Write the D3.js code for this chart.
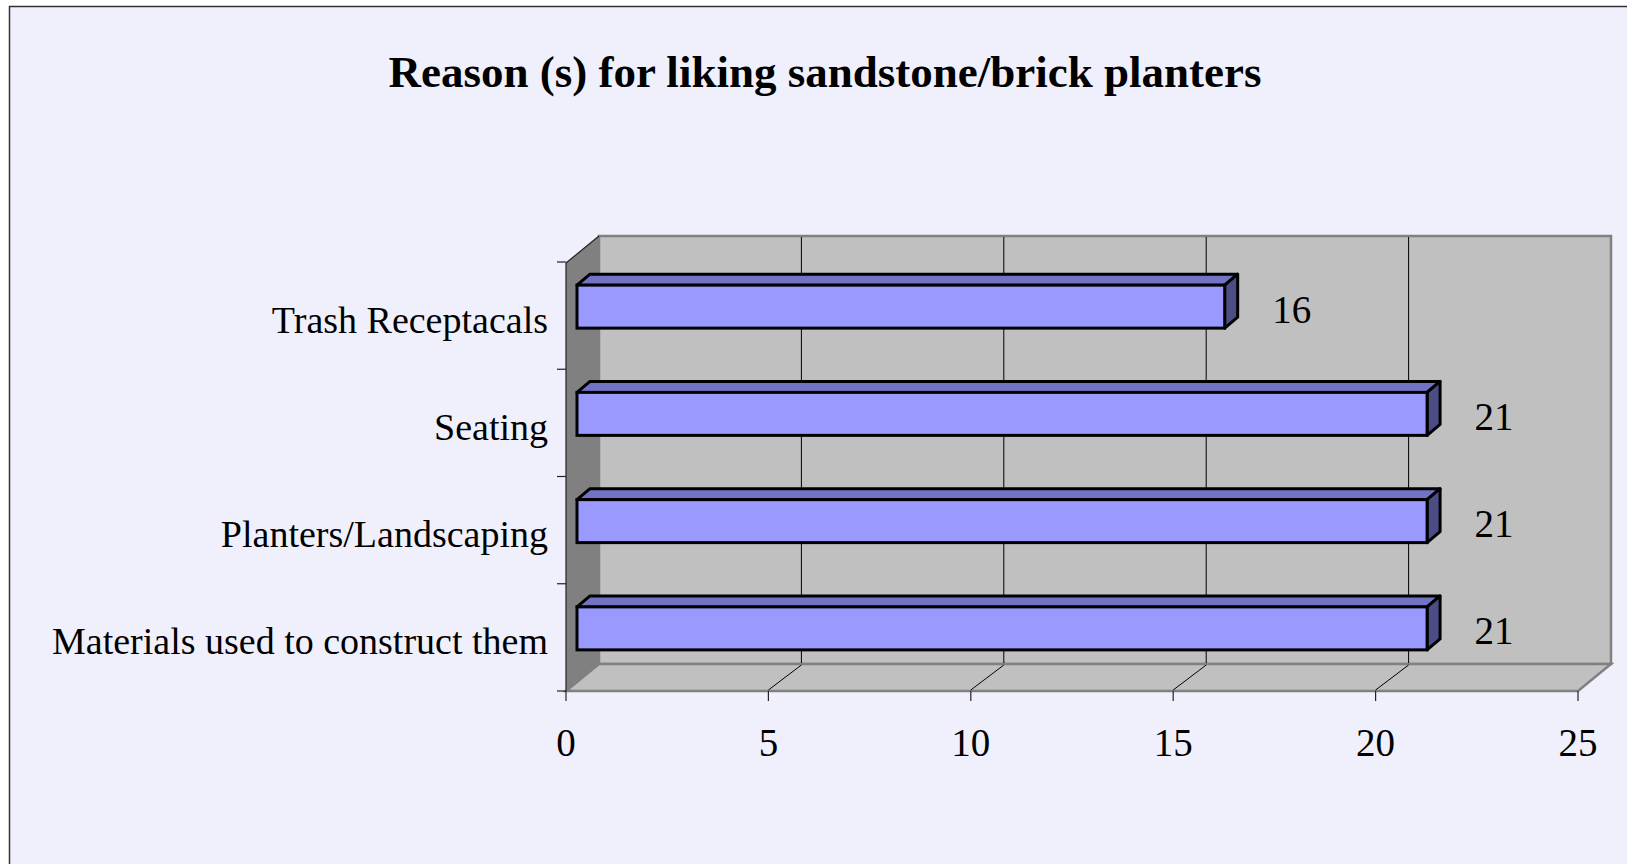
<!DOCTYPE html>
<html>
<head>
<meta charset="utf-8">
<script src="https://cdn.jsdelivr.net/npm/d3@7"></script>
<style>
  html, body { margin: 0; padding: 0; background: #ffffff; }
  svg { display: block; }
  text { font-family: "Liberation Serif", "Times New Roman", serif; fill: #000; }
</style>
</head>
<body>
<svg width="1627" height="864"></svg>
<script>
// data
const categories = ['Trash Receptacals', 'Seating', 'Planters/Landscaping', 'Materials used to construct them'];
const values = [16, 21, 21, 21];
const tickValues = [0, 5, 10, 15, 20, 25];
const title = 'Reason (s) for liking sandstone/brick planters';

const data = categories.map((c, i) => ({ name: c, value: values[i] }));

const svg = d3.select('svg');

// 3d offsets (wall depth and bar depth)
const depthX = 33, depthY = -27;
const barFrontX = 11, barFrontY = -9;
const barBackX = 24, barBackY = -20;
const barHeight = 43;

// chart background + border
svg.append('rect')
  .attr('x', 9.5)
  .attr('y', 6.5)
  .attr('width', 1700)
  .attr('height', 900)
  .attr('fill', '#f0f0fc')
  .attr('stroke', '#333')
  .attr('stroke-width', 1.5);

// title
svg.append('text')
  .attr('x', 825)
  .attr('y', 87)
  .attr('text-anchor', 'middle')
  .attr('font-size', 45)
  .attr('font-weight', 'bold')
  .text(title);

// scales
const scaleX = d3.scaleLinear()
  .domain([0, 25])
  .range([566, 1578]);

const scaleY = d3.scaleBand()
  .domain(categories)
  .range([262, 691])
  .paddingInner(0);

const x0 = scaleX(0), x1 = scaleX(25);
const yTop = scaleY.range()[0] + 1, yBot = scaleY.range()[1];

// back wall
svg.append('rect')
  .attr('x', x0 + depthX)
  .attr('y', yTop + depthY)
  .attr('width', x1 - x0)
  .attr('height', yBot - yTop)
  .attr('fill', '#c0c0c0')
  .attr('stroke', '#808080')
  .attr('stroke-width', 2.5);

// side wall
svg.append('polygon')
  .attr('points', [
    [x0, yTop], [x0 + depthX, yTop + depthY],
    [x0 + depthX, yBot + depthY], [x0, yBot]
  ].join(' '))
  .attr('fill', '#808080');

// floor
svg.append('polygon')
  .attr('points', [
    [x0, yBot], [x0 + depthX, yBot + depthY],
    [x1 + depthX, yBot + depthY], [x1, yBot]
  ].join(' '))
  .attr('fill', '#c0c0c0')
  .attr('stroke', '#808080')
  .attr('stroke-width', 2.5)
  .attr('stroke-linejoin', 'miter');

// gridlines on back wall and floor
const inner = tickValues.filter(v => v > 0 && v < 25);
svg.selectAll('line.grid')
  .data(inner)
  .enter()
  .append('line')
  .attr('class', 'grid')
  .attr('x1', d => scaleX(d) + depthX)
  .attr('x2', d => scaleX(d) + depthX)
  .attr('y1', yTop + depthY + 1)
  .attr('y2', yBot + depthY - 1)
  .attr('stroke', '#000')
  .attr('stroke-width', 1);

svg.selectAll('line.floor-grid')
  .data(inner)
  .enter()
  .append('line')
  .attr('class', 'floor-grid')
  .attr('x1', d => scaleX(d))
  .attr('x2', d => scaleX(d) + depthX)
  .attr('y1', yBot - 1)
  .attr('y2', yBot + depthY + 1)
  .attr('stroke', '#000')
  .attr('stroke-width', 1);

// left axis line, top edge of the side wall
svg.append('line')
  .attr('x1', x0).attr('x2', x0)
  .attr('y1', yTop).attr('y2', yBot)
  .attr('stroke', '#222')
  .attr('stroke-width', 1.2);
svg.append('line')
  .attr('x1', x0).attr('x2', x0 + depthX)
  .attr('y1', yTop).attr('y2', yTop + depthY)
  .attr('stroke', '#222')
  .attr('stroke-width', 1.2);

// category ticks on the left
const boundaries = categories.map(c => scaleY(c)).concat([yBot]);
svg.selectAll('line.ytick')
  .data(boundaries)
  .enter()
  .append('line')
  .attr('class', 'ytick')
  .attr('x1', x0 - 9).attr('x2', x0)
  .attr('y1', d => d).attr('y2', d => d)
  .attr('stroke', '#222')
  .attr('stroke-width', 1.2);

// bottom axis ticks and labels
svg.selectAll('line.xtick')
  .data(tickValues)
  .enter()
  .append('line')
  .attr('class', 'xtick')
  .attr('x1', d => scaleX(d)).attr('x2', d => scaleX(d))
  .attr('y1', yBot).attr('y2', yBot + 10)
  .attr('stroke', '#222')
  .attr('stroke-width', 1.2);

svg.selectAll('text.xlabel')
  .data(tickValues)
  .enter()
  .append('text')
  .attr('class', 'xlabel')
  .attr('x', d => scaleX(d))
  .attr('y', 756)
  .attr('text-anchor', 'middle')
  .attr('font-size', 39)
  .text(d => d);

// category labels
svg.selectAll('text.ylabel')
  .data(categories)
  .enter()
  .append('text')
  .attr('class', 'ylabel')
  .attr('x', 548)
  .attr('y', d => scaleY(d) + scaleY.bandwidth() / 2 + 17)
  .attr('text-anchor', 'end')
  .attr('font-size', 38)
  .text(d => d);

// bars: top face, side face, front face
const bars = svg.selectAll('g.bar')
  .data(data)
  .enter()
  .append('g')
  .attr('class', 'bar');

const frontTop = d => scaleY(d.name) + scaleY.bandwidth() / 2 + barFrontY - barHeight / 2;
const dX = barBackX - barFrontX, dY = barBackY - barFrontY;

bars.append('polygon')
  .attr('points', d => {
    const l = scaleX(0) + barFrontX, r = scaleX(d.value) + barFrontX, t = frontTop(d);
    return [[l, t], [l + dX, t + dY], [r + dX, t + dY], [r, t]].join(' ');
  })
  .attr('fill', '#7373c6')
  .attr('stroke', '#000')
  .attr('stroke-width', 3)
  .attr('stroke-linejoin', 'round');

bars.append('polygon')
  .attr('points', d => {
    const r = scaleX(d.value) + barFrontX, t = frontTop(d);
    return [[r, t], [r + dX, t + dY], [r + dX, t + dY + barHeight], [r, t + barHeight]].join(' ');
  })
  .attr('fill', '#4d4d85')
  .attr('stroke', '#000')
  .attr('stroke-width', 3)
  .attr('stroke-linejoin', 'round');

bars.append('rect')
  .attr('x', scaleX(0) + barFrontX)
  .attr('y', d => frontTop(d))
  .attr('width', d => scaleX(d.value) - scaleX(0))
  .attr('height', barHeight)
  .attr('fill', '#9999ff')
  .attr('stroke', '#000')
  .attr('stroke-width', 3);

// value labels
bars.append('text')
  .attr('x', d => scaleX(d.value) + 78)
  .attr('y', d => scaleY(d.name) + scaleY.bandwidth() / 2 + barFrontY + 16)
  .attr('text-anchor', 'middle')
  .attr('font-size', 39)
  .text(d => d.value);
</script>
</body>
</html>
